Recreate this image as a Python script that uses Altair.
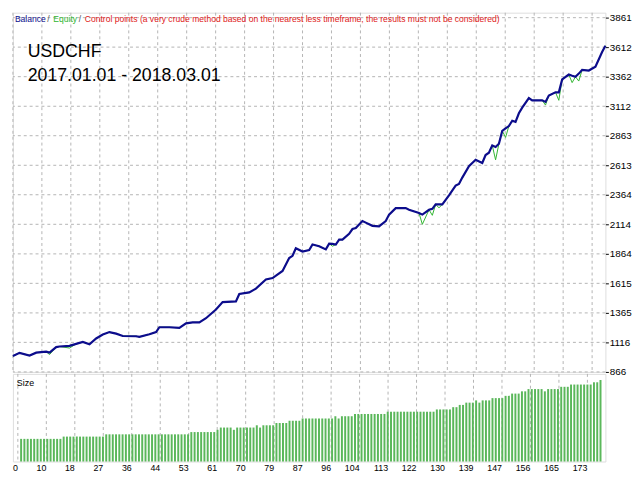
import altair as alt
import pandas as pd

# ---------------- data ----------------
trades = [0, 2, 5, 7, 10, 11, 13, 14, 17, 19, 21, 23, 25, 27, 29, 31, 33, 37, 38, 41,
          43, 44, 47, 50, 52, 54, 56, 58, 61, 63, 67, 68, 71, 73, 76, 78, 81, 83, 84, 85,
          87, 89, 90, 92, 94, 95, 96, 97, 98, 99, 101, 102, 103, 105, 106, 108, 110, 112, 113, 115,
          118, 119, 122, 123, 125, 126, 127, 128, 129, 131, 133, 134, 135, 137, 139, 141, 142, 143, 144, 145,
          146, 147, 148, 149, 150, 151, 152, 153, 155, 156, 159, 160, 161, 163, 164, 165, 167, 168, 169, 170,
          171, 173, 175, 177, 178]

balance = [1000, 1027, 1005, 1029, 1037, 1030, 1076, 1081, 1086, 1103, 1119, 1100, 1149, 1182, 1203, 1190, 1170, 1168, 1162, 1184,
           1203, 1244, 1244, 1239, 1277, 1285, 1285, 1320, 1394, 1456, 1462, 1525, 1538, 1570, 1647, 1660, 1720, 1829, 1848, 1911,
           1884, 1897, 1943, 1929, 1902, 1951, 1948, 1943, 1984, 1984, 2033, 2074, 2082, 2142, 2128, 2101, 2096, 2142, 2196, 2251,
           2251, 2237, 2210, 2196, 2237, 2245, 2283, 2283, 2283, 2359, 2441, 2455, 2509, 2605, 2659, 2632, 2700, 2719, 2781, 2768,
           2795, 2904, 2925, 2945, 2990, 2980, 3053, 3100, 3181, 3162, 3162, 3149, 3203, 3230, 3230, 3339, 3380, 3370, 3361, 3388,
           3420, 3414, 3447, 3570, 3624]

equity = [1000, 1027, 1005, 1029, 1037, 1013, 1076, 1081, 1068, 1103, 1119, 1100, 1149, 1182, 1203, 1190, 1170, 1168, 1162, 1184,
          1203, 1244, 1244, 1239, 1277, 1285, 1285, 1320, 1394, 1456, 1462, 1525, 1538, 1570, 1647, 1660, 1720, 1829, 1848, 1911,
          1884, 1897, 1943, 1929, 1902, 1951, 1929, 1943, 1984, 1984, 2033, 2074, 2082, 2142, 2128, 2101, 2096, 2142, 2196, 2251,
          2251, 2237, 2210, 2114, 2237, 2190, 2283, 2253, 2283, 2359, 2441, 2455, 2509, 2605, 2659, 2632, 2700, 2719, 2781, 2659,
          2795, 2904, 2849, 2945, 2990, 2980, 3053, 3100, 3181, 3162, 3162, 3122, 3203, 3230, 3162, 3339, 3380, 3312, 3361, 3325,
          3420, 3414, 3447, 3570, 3624]

# lot size of trades 1..178
size_lots = [
    0.10, 0.10, 0.10, 0.10, 0.10, 0.10, 0.10, 0.10, 0.10, 0.10, 0.10, 0.10, 0.10,
    0.11, 0.11, 0.11, 0.11, 0.11, 0.11, 0.11, 0.11, 0.11, 0.11, 0.11, 0.11, 0.11,
    0.12, 0.12, 0.12, 0.12, 0.12, 0.12, 0.12, 0.12, 0.12, 0.12, 0.12, 0.12, 0.12,
    0.12, 0.12, 0.12, 0.12, 0.12, 0.12, 0.12, 0.12, 0.12, 0.12, 0.12, 0.12, 0.12,
    0.13, 0.13, 0.13, 0.13, 0.13, 0.13, 0.13, 0.13,
    0.14, 0.15, 0.15, 0.15, 0.15, 0.14, 0.15, 0.15, 0.15, 0.15, 0.15, 0.15,
    0.16, 0.15, 0.16, 0.16, 0.16, 0.16,
    0.17, 0.17, 0.17, 0.17, 0.18, 0.18, 0.18, 0.18,
    0.19, 0.19, 0.19, 0.19, 0.19, 0.19, 0.19, 0.19, 0.19, 0.19,
    0.20, 0.19, 0.20, 0.20, 0.20, 0.20,
    0.21, 0.21, 0.21, 0.21, 0.21, 0.21, 0.21, 0.21, 0.21, 0.21,
    0.22, 0.22, 0.22, 0.22, 0.22, 0.22, 0.22, 0.22, 0.22, 0.22, 0.22, 0.22, 0.22, 0.22, 0.22,
    0.23, 0.23, 0.23, 0.23, 0.23, 0.24, 0.24, 0.25, 0.25,
    0.26, 0.26, 0.26, 0.27, 0.26, 0.27, 0.27, 0.27,
    0.28, 0.28, 0.28, 0.28, 0.29, 0.29, 0.30, 0.30, 0.30, 0.31, 0.31,
    0.32, 0.32, 0.32, 0.32, 0.32, 0.31, 0.32, 0.32, 0.32, 0.32,
    0.33, 0.33, 0.33, 0.34, 0.34, 0.34, 0.34, 0.34, 0.34, 0.34,
    0.35, 0.35, 0.36]

x_tick_labels = ["0", "10", "18", "27", "36", "44", "53", "61", "70", "79", "87",
                 "96", "104", "113", "122", "130", "139", "147", "156", "165", "173"]
y_tick_values = [866, 1116, 1365, 1615, 1864, 2114, 2364, 2613, 2863, 3112, 3362, 3612, 3861]

legend_parts = ["Balance", "/", "Equity", "/",
                "Control points (a very crude method based on the nearest less timeframe, the results must not be considered)"]
title_lines = ["USDCHF", "2017.01.01 - 2018.03.01"]

# ---------------- styling ----------------
BLUE = "#0c0c8c"
GREEN = "#2fb52f"
BAR_GREEN = "#5ab75a"
RED = "#e02020"
GRID = "#b4b4b4"
FONT = "Liberation Sans"
N_TRADES = 178
TICK_STEP = 8.7
W = 602
H_MAIN = 365
H_SIZE = 89

x_tick_vals = [k * TICK_STEP for k in range(len(x_tick_labels))]

xscale = alt.Scale(domain=[0, N_TRADES], nice=False, zero=False)
yscale = alt.Scale(domain=[866, 3903], nice=False, zero=False)

y_axis = alt.Axis(orient="right", values=y_tick_values, title=None, grid=False, domain=False,
                  tickSize=3, tickColor="#000000", labelPadding=1, labelFlush=False,
                  labelOverlap=False, format="d")

# ---------------- main panel ----------------
vgrid_df = pd.DataFrame({"v": x_tick_vals})
hgrid_df = pd.DataFrame({"v": y_tick_values})

vgrid_main = alt.Chart(vgrid_df).mark_rule(color=GRID, strokeDash=[3, 3], strokeWidth=1).encode(
    x=alt.X("v:Q", scale=xscale, axis=None))
hgrid_main = alt.Chart(hgrid_df).mark_rule(color=GRID, strokeDash=[3, 3], strokeWidth=1).encode(
    y=alt.Y("v:Q", scale=yscale, axis=y_axis))

main_df = pd.DataFrame({"trade": trades, "balance": balance, "equity": equity})

eq_line = alt.Chart(main_df).mark_line(color=GREEN, strokeWidth=1).encode(
    x=alt.X("trade:Q", scale=xscale, axis=None),
    y=alt.Y("equity:Q", scale=yscale, axis=y_axis))
bal_line = alt.Chart(main_df).mark_line(color=BLUE, strokeWidth=2.2).encode(
    x=alt.X("trade:Q", scale=xscale, axis=None),
    y=alt.Y("balance:Q", scale=yscale, axis=y_axis))

one_row = pd.DataFrame({"t": [0]})
lx = [2, 35, 41, 67, 73]
lcol = [BLUE, "#555555", GREEN, "#555555", RED]
legend_layers = []
for txt, xx, cc in zip(legend_parts, lx, lcol):
    legend_layers.append(
        alt.Chart(one_row).mark_text(align="left", baseline="alphabetic", font=FONT,
                                     fontSize=8.7, color=cc).encode(
            x=alt.value(xx), y=alt.value(9), text=alt.value(txt)))

title_layers = []
for txt, yy in zip(title_lines, [45, 69]):
    title_layers.append(
        alt.Chart(one_row).mark_text(align="left", baseline="alphabetic", font=FONT,
                                     fontSize=18, color="#000000").encode(
            x=alt.value(15), y=alt.value(yy), text=alt.value(txt)))

main = alt.layer(hgrid_main, vgrid_main, eq_line, bal_line, *legend_layers, *title_layers).properties(
    width=W, height=H_MAIN)

# ---------------- size panel ----------------
vgrid_size = alt.Chart(vgrid_df).mark_rule(color=GRID, strokeDash=[3, 3], strokeWidth=1).encode(
    x=alt.X("v:Q", scale=xscale, axis=None))

size_df = pd.DataFrame({"trade": list(range(1, N_TRADES + 1)), "size": size_lots})
size_bars = alt.Chart(size_df).mark_bar(color=BAR_GREEN, size=2).encode(
    x=alt.X("trade:Q", scale=xscale, axis=None),
    y=alt.Y("size:Q", scale=alt.Scale(domain=[0, 0.387], nice=False), axis=None))
size_label = alt.Chart(one_row).mark_text(align="left", baseline="alphabetic", font=FONT,
                                          fontSize=9, color="#000000").encode(
    x=alt.value(4), y=alt.value(12), text=alt.value("Size"))

xlab_df = pd.DataFrame({"v": x_tick_vals[1:], "lab": x_tick_labels[1:]})
x_labels = alt.Chart(xlab_df).mark_text(align="right", baseline="top", font=FONT,
                                        fontSize=9, color="#000000").encode(
    x=alt.X("v:Q", scale=xscale, axis=None), y=alt.value(H_SIZE + 3), text="lab:N")
zero_label = alt.Chart(one_row).mark_text(align="left", baseline="top", font=FONT,
                                          fontSize=9, color="#000000").encode(
    x=alt.value(0), y=alt.value(H_SIZE + 3), text=alt.value(x_tick_labels[0]))
size_chart = alt.layer(vgrid_size, size_bars, size_label, x_labels, zero_label).properties(
    width=W, height=H_SIZE)

chart = alt.vconcat(main, size_chart, spacing=2, bounds="flush").properties(
    padding={"left": 0, "top": 0, "right": 0, "bottom": 0}
).configure_view(stroke="#1a1a1a", strokeWidth=1).configure_axis(
    labelFont=FONT, labelFontSize=9, labelColor="#000000"
).configure(background="#ffffff")

chart.save("out.html", embed_options={"renderer": "svg", "actions": False})
